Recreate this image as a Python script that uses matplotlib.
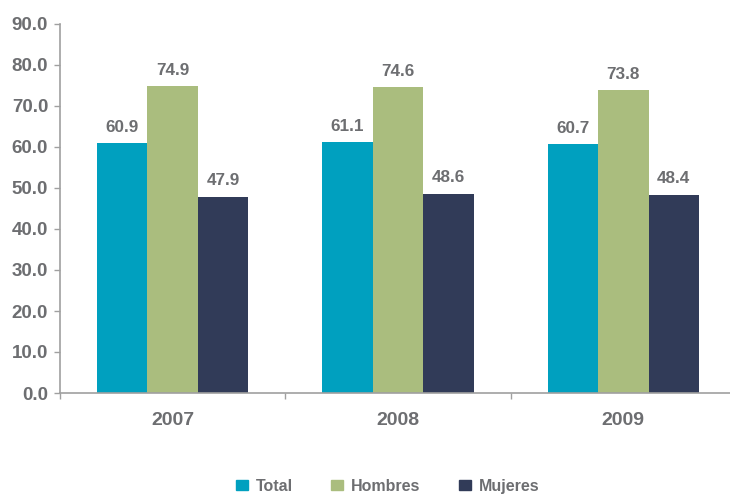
import matplotlib
matplotlib.use("Agg")
from matplotlib import pyplot as plt
from matplotlib.patches import Patch
import numpy as np

years = ["2007", "2008", "2009"]
series = ["Total", "Hombres", "Mujeres"]
total = [60.9, 61.1, 60.7]
hombres = [74.9, 74.6, 73.8]
mujeres = [47.9, 48.6, 48.4]

colors = ["#00A0BF", "#AABD7E", "#313B58"]
gray = "#6D6E71"
axis_gray = "#A0A0A0"

plt.rcParams['font.family'] = ['Liberation Sans', 'DejaVu Sans']

fig = plt.figure(figsize=(7.3, 4.97), dpi=100)
ax = fig.add_axes([60/730, 1 - 393/497, 676/730, (393 - 24)/497])

x = np.arange(len(years))
w = 0.224
for k, (vals, c) in enumerate(zip([total, hombres, mujeres], colors)):
    bars = ax.bar(x + (k - 1) * w, vals, w, color=c, zorder=2)
    for b, v in zip(bars, vals):
        ax.annotate(f"{v:.1f}", (b.get_x() + b.get_width() / 2, v),
                    xytext=(0, 6), textcoords="offset points",
                    ha="center", va="bottom", fontsize=12.3,
                    fontweight="bold", color=gray)

ax.set_xlim(-0.5, 2.5)
ax.set_ylim(0, 90)
ax.set_yticks(np.arange(0, 91, 10))
ax.set_yticklabels([f"{v:.1f}" for v in np.arange(0, 91, 10)])
ax.set_xticks(x)
ax.set_xticklabels(years)
ax.set_xticks([-0.5, 0.5, 1.5, 2.5], minor=True)

for s in ["top", "right"]:
    ax.spines[s].set_visible(False)
for s in ["left", "bottom"]:
    ax.spines[s].set_color(axis_gray)
    ax.spines[s].set_linewidth(1.2)

ax.tick_params(axis="y", length=4.5, width=1, color=axis_gray, pad=4,
               labelsize=13.5, labelcolor=gray)
ax.tick_params(axis="x", which="major", length=0, pad=14,
               labelsize=14, labelcolor=gray)
ax.tick_params(axis="x", which="minor", length=4, width=1, color=axis_gray)
for lab in ax.get_yticklabels() + ax.get_xticklabels():
    lab.set_fontweight("bold")

handles = [Patch(color=c, label=s) for c, s in zip(colors, series)]
leg = fig.legend(handles=handles, loc="center", bbox_to_anchor=(0.531, 0.022),
                 ncol=3, frameon=False, handlelength=0.75, handleheight=0.55,
                 handletextpad=0.5, columnspacing=2.4, borderpad=0.2,
                 prop={"weight": "bold", "size": 11.5})
for t in leg.get_texts():
    t.set_color(gray)

fig.savefig("out.png", dpi=100)
